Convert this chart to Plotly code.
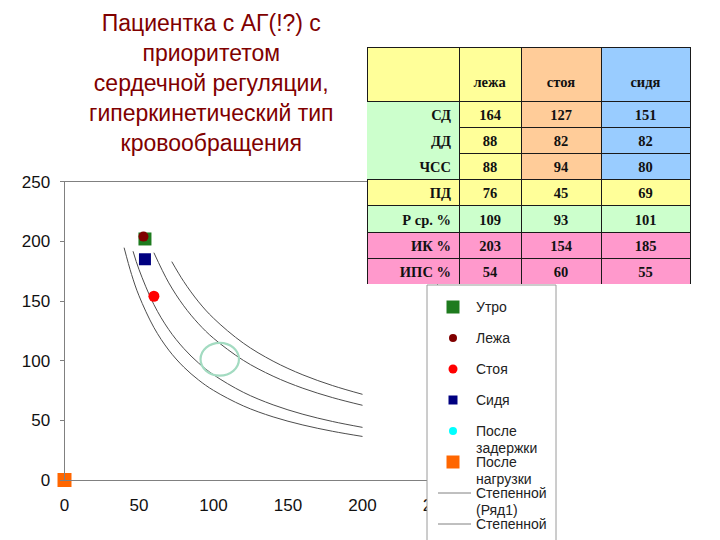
import plotly.graph_objects as go

# ---------------- data ----------------
title_lines = ["Пациентка с АГ(!?) с", "приоритетом", "сердечной регуляции,",
               "гиперкинетический тип", "кровообращения"]

# table
col_headers = ["", "лежа", "стоя", "сидя"]
row_labels = ["СД", "ДД", "ЧСС", "ПД", "Р ср. %", "ИК %", "ИПС %"]
lying = [164, 88, 88, 76, 109, 203, 54]
standing = [127, 82, 94, 45, 93, 154, 60]
sitting = [151, 82, 80, 69, 101, 185, 55]

# scatter points (x = ИПС %, y = ИК %)
point_names = ["После задержки", "Утро", "Сидя", "Стоя", "Лежа", "После нагрузки"]
point_x = [0, 54, 54, 60, 53, 0]
point_y = [0, 202, 185, 154, 204, 0]

# power trend curves
c1_x = [40, 45, 50, 60, 70, 80, 90, 100, 120, 140, 160, 180, 200]
c1_y = [194.7, 172.3, 154.4, 127.8, 108.8, 94.7, 83.8, 75.1, 62.1, 52.9, 46.1, 40.8, 36.5]
c2_x = [46, 50, 60, 70, 80, 90, 100, 120, 140, 160, 180, 200]
c2_y = [191.7, 176.4, 147.0, 126.0, 110.3, 98.0, 88.2, 73.5, 63.0, 55.1, 49.0, 44.1]
c3_x = [60, 70, 80, 90, 100, 120, 140, 160, 180, 200]
c3_y = [190.5, 165.2, 146.0, 130.9, 118.8, 100.3, 87.0, 76.9, 69.0, 62.6]
c4_x = [72, 80, 90, 100, 120, 140, 160, 180, 200]
c4_y = [183.0, 166.4, 149.3, 135.6, 114.7, 99.6, 88.1, 79.1, 71.8]

# highlighted zone (centre, radii) in data units
zone_center = [104.2, 101.2]
zone_radius = [12.9, 13.7]

x_ticks = [0, 50, 100, 150, 200, 250]
y_ticks = [0, 50, 100, 150, 200, 250]

legend_names = [["Утро"], ["Лежа"], ["Стоя"], ["Сидя"], ["После", "задержки"],
                ["После", "нагрузки"], ["Степенной", "(Ряд1)"], ["Степенной"]]

# ---------------- styles ----------------
W, H = 720, 540
YEL, ORA, BLU, GRN, PNK = "#FFFF99", "#FFCC99", "#99CCFF", "#CCFFCC", "#FF99CC"
DARK = "#1a1a1a"
NBSP = "\u00a0"
point_style = {
    "После задержки": dict(symbol="circle", size=9, color="#00FFFF"),
    "Утро": dict(symbol="square", size=13, color="#1E7B1E"),
    "Сидя": dict(symbol="square", size=12, color="#000080"),
    "Стоя": dict(symbol="circle", size=11, color="#FF0000"),
    "Лежа": dict(symbol="circle", size=10, color="#800000"),
    "После нагрузки": dict(symbol="square", size=14, color="#FF6600"),
}
legend_marks = [("rect", 13, "#1E7B1E"), ("circle", 8, "#800000"), ("circle", 9, "#FF0000"),
                ("rect", 9, "#000080"), ("circle", 8, "#00FFFF"), ("rect", 13, "#FF6600"),
                ("line", 0, "#808080"), ("line", 0, "#808080")]

def px_x(v):
    return v / W

def px_y(v):
    return 1 - v / H

fig = go.Figure()

curve_color = "#4d4d4d"
for cx, cy, nm in [(c1_x, c1_y, "Степенной (Ряд1)"), (c2_x, c2_y, "Степенной (Ряд2)"),
                   (c3_x, c3_y, "Степенной (Ряд3)"), (c4_x, c4_y, "Степенной (Ряд4)")]:
    fig.add_trace(go.Scatter(x=cx, y=cy, mode="lines", name=nm, showlegend=False,
                             line=dict(color=curve_color, width=1, shape="spline", smoothing=1),
                             hoverinfo="skip"))

for nm, x, y in zip(point_names, point_x, point_y):
    st = point_style[nm]
    fig.add_trace(go.Scatter(x=[x], y=[y], mode="markers", name=nm, showlegend=False,
                             cliponaxis=False,
                             marker=dict(symbol=st["symbol"], size=st["size"], color=st["color"],
                                         line=dict(width=0))))

# table
label_fill = [GRN, GRN, GRN, YEL, GRN, PNK, PNK]
lying_fill = [YEL, YEL, YEL, YEL, GRN, PNK, PNK]
stand_fill = [ORA, ORA, ORA, YEL, GRN, PNK, PNK]
sit_fill = [BLU, BLU, BLU, YEL, GRN, PNK, PNK]
label_line = [GRN, GRN, GRN, DARK, DARK, DARK, DARK]
tfont = dict(family="Liberation Serif", size=14.5, color="#111", weight="bold")
fig.add_trace(go.Table(
    domain=dict(x=[367 / W, 690 / W], y=[px_y(284.5), px_y(47)]),
    columnwidth=[92, 62, 80, 89],
    header=dict(values=[NBSP + "<br>" + (h or NBSP) for h in col_headers],
                fill=dict(color=[YEL, YEL, ORA, BLU]),
                line=dict(color=DARK, width=1),
                align="center", height=54, font=tfont),
    cells=dict(values=[[r.replace(" ", NBSP) for r in row_labels],
                       [str(v) for v in lying],
                       [str(v) for v in standing],
                       [str(v) for v in sitting]],
               fill=dict(color=[label_fill, lying_fill, stand_fill, sit_fill]),
               line=dict(color=[label_line, [DARK] * 7, [DARK] * 7, [DARK] * 7], width=1),
               align=["right", "center", "center", "center"], height=26.2, font=tfont),
))

shapes = []
# highlighted zone
shapes.append(dict(type="circle", xref="x", yref="y",
                   x0=zone_center[0] - zone_radius[0], x1=zone_center[0] + zone_radius[0],
                   y0=zone_center[1] - zone_radius[1], y1=zone_center[1] + zone_radius[1],
                   line=dict(color="#A3DBC1", width=2.2)))
# legend box
shapes.append(dict(type="rect", xref="paper", yref="paper", layer="above",
                   x0=px_x(427), x1=px_x(556), y0=px_y(560), y1=px_y(285),
                   fillcolor="white", line=dict(color="#9a9a9a", width=1)))

annotations = []
annotations.append(dict(text="<br>".join(title_lines), x=px_x(211), y=px_y(82.5),
                        xref="paper", yref="paper", xanchor="center", yanchor="middle",
                        align="center", showarrow=False,
                        font=dict(family="Liberation Sans", size=23, color="#800000")))
for i, (lines, mark) in enumerate(zip(legend_names, legend_marks)):
    cy = 307 + 31 * i
    kind, sz, col = mark
    if kind == "line":
        shapes.append(dict(type="line", xref="paper", yref="paper", layer="above",
                           x0=px_x(438), x1=px_x(471), y0=px_y(cy), y1=px_y(cy),
                           line=dict(color=col, width=1)))
    else:
        shapes.append(dict(type=kind, xref="paper", yref="paper", layer="above",
                           x0=px_x(453 - sz / 2), x1=px_x(453 + sz / 2),
                           y0=px_y(cy + sz / 2), y1=px_y(cy - sz / 2),
                           fillcolor=col, line=dict(width=0)))
    for j, t in enumerate(lines):
        annotations.append(dict(text=t, x=px_x(474), y=px_y(cy + 16.5 * j),
                                xref="paper", yref="paper", xanchor="left", yanchor="middle",
                                showarrow=False,
                                font=dict(family="Liberation Sans", size=14, color="#222")))

fig.update_layout(
    width=W, height=H, margin=dict(l=0, r=0, t=0, b=0, autoexpand=False),
    paper_bgcolor="white", plot_bgcolor="white", showlegend=False,
    xaxis=dict(domain=[64.5 / W, 437 / W], range=[0, 250], tickvals=x_ticks,
               showgrid=False, zeroline=False, showline=True, mirror=True,
               linecolor="#808080", linewidth=1, ticks="", ticklabelstandoff=10,
               automargin=False,
               tickfont=dict(family="Liberation Sans", size=17, color="#111")),
    yaxis=dict(domain=[px_y(480), px_y(181.7)], range=[0, 250], tickvals=y_ticks,
               showgrid=False, zeroline=False, showline=True, mirror=True,
               linecolor="#808080", linewidth=1, ticks="outside", ticklen=4,
               tickcolor="#808080", ticklabelstandoff=6, automargin=False,
               tickfont=dict(family="Liberation Sans", size=17, color="#111")),
    shapes=shapes, annotations=annotations,
)

fig.write_html("out.html", config={"displayModeBar": False},
               post_script="document.body.style.margin='0';")
